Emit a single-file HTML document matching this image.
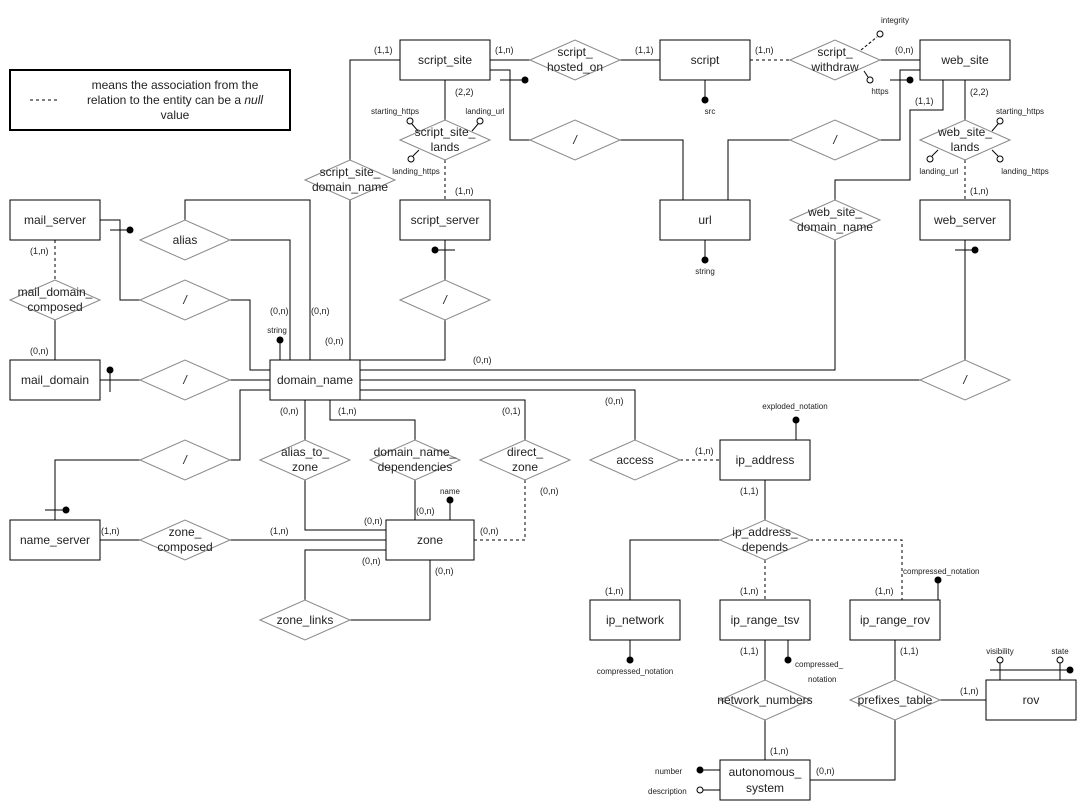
<!DOCTYPE html>
<html><head><meta charset="utf-8"><style>
html,body{margin:0;padding:0;background:#fff}
svg{display:block}
text{font-family:"Liberation Sans",Arial,sans-serif;fill:#222}
.e{font-size:12px;text-anchor:middle;dominant-baseline:middle}
.c{font-size:9px;fill:#444}
.a{font-size:8px}
.m{text-anchor:middle}
</style></head><body>
<svg width="1092" height="811" viewBox="0 0 1092 811" xmlns="http://www.w3.org/2000/svg">
<g fill="none" stroke="#000" stroke-width="1">
<!-- legend -->
<rect x="10" y="70" width="280" height="60" stroke-width="2"/>
<line x1="30" y1="100" x2="60" y2="100" stroke-dasharray="3,3"/>

<!-- connectors -->
<polyline points="400,60 350,60 350,160"/>
<polyline points="350,200 350,360"/>
<line x1="490" y1="60" x2="530" y2="60"/>
<line x1="620" y1="60" x2="660" y2="60"/>
<polyline points="490,70 510,70 510,140 530,140"/>
<polyline points="620,140 683,140 683,200"/>
<line x1="500" y1="80" x2="525" y2="80"/>
<line x1="445" y1="80" x2="445" y2="120"/>
<line x1="445" y1="160" x2="445" y2="200" stroke-dasharray="3,3"/>
<line x1="750" y1="60" x2="790" y2="60" stroke-dasharray="3,3"/>
<line x1="880" y1="60" x2="920" y2="60"/>
<line x1="861" y1="50" x2="877" y2="37" stroke-dasharray="3,2"/>
<line x1="864" y1="71" x2="868" y2="77"/>
<line x1="705" y1="80" x2="705" y2="100"/>
<polyline points="920,70 900,70 900,140 880,140"/>
<polyline points="790,140 728,140 728,200"/>
<line x1="890" y1="80" x2="910" y2="80"/>
<polyline points="943,80 943,110 910,110 910,180 835,180 835,200"/>
<polyline points="835,240 835,370 360,370"/>
<line x1="965" y1="80" x2="965" y2="120"/>
<line x1="965" y1="160" x2="965" y2="200" stroke-dasharray="3,3"/>
<line x1="705" y1="240" x2="705" y2="260"/>
<line x1="965" y1="240" x2="965" y2="360"/>
<line x1="955" y1="250" x2="975" y2="250"/>
<line x1="920" y1="380" x2="360" y2="380"/>
<line x1="445" y1="240" x2="445" y2="280"/>
<line x1="435" y1="250" x2="455" y2="250"/>
<polyline points="445,320 445,360 360,360"/>
<polyline points="185,220 185,200 310,200 310,360"/>
<polyline points="230,240 290,240 290,360"/>
<line x1="280" y1="340" x2="280" y2="360"/>
<polyline points="100,220 120,220 120,300 140,300"/>
<polyline points="230,300 250,300 250,370 270,370"/>
<line x1="110" y1="230" x2="130" y2="230"/>
<line x1="55" y1="240" x2="55" y2="280" stroke-dasharray="3,3"/>
<line x1="55" y1="320" x2="55" y2="360"/>
<line x1="100" y1="380" x2="140" y2="380"/>
<line x1="230" y1="380" x2="270" y2="380"/>
<line x1="110" y1="370" x2="110" y2="392"/>
<polyline points="270,390 240,390 240,460 230,460"/>
<polyline points="140,460 55,460 55,520"/>
<line x1="45" y1="510" x2="65" y2="510"/>
<line x1="305" y1="400" x2="305" y2="440"/>
<polyline points="305,480 305,530 386,530"/>
<polyline points="330,400 330,420 415,420 415,440"/>
<line x1="415" y1="480" x2="415" y2="520"/>
<line x1="450" y1="500" x2="450" y2="520"/>
<polyline points="360,400 525,400 525,440"/>
<polyline points="525,480 525,540 474,540" stroke-dasharray="3,3"/>
<polyline points="360,390 635,390 635,440"/>
<line x1="680" y1="460" x2="720" y2="460" stroke-dasharray="3,3"/>
<line x1="796" y1="420" x2="796" y2="440"/>
<line x1="765" y1="480" x2="765" y2="520"/>
<polyline points="720,540 630,540 630,600"/>
<line x1="765" y1="560" x2="765" y2="600" stroke-dasharray="3,3"/>
<polyline points="810,540 902,540 902,600" stroke-dasharray="3,3"/>
<line x1="938" y1="580" x2="938" y2="600"/>
<line x1="630" y1="640" x2="630" y2="660"/>
<line x1="765" y1="640" x2="765" y2="680"/>
<line x1="788" y1="640" x2="788" y2="660"/>
<line x1="765" y1="720" x2="765" y2="760"/>
<line x1="895" y1="640" x2="895" y2="680"/>
<line x1="940" y1="700" x2="986" y2="700"/>
<polyline points="895,720 895,780 810,780"/>
<line x1="990" y1="670" x2="1070" y2="670"/>
<line x1="1000" y1="663" x2="1000" y2="680"/>
<line x1="1060" y1="663" x2="1060" y2="680"/>
<line x1="700" y1="770" x2="720" y2="770"/>
<line x1="703" y1="790" x2="720" y2="790"/>
<line x1="100" y1="540" x2="140" y2="540"/>
<line x1="230" y1="540" x2="386" y2="540"/>
<polyline points="305,600 305,550 386,550"/>
<polyline points="350,620 430,620 430,560"/>

<!-- entities -->
<rect x="400" y="40" width="90" height="40" fill="#fff"/>
<rect x="660" y="40" width="90" height="40" fill="#fff"/>
<rect x="920" y="40" width="90" height="40" fill="#fff"/>
<rect x="10" y="200" width="90" height="40" fill="#fff"/>
<rect x="400" y="200" width="90" height="40" fill="#fff"/>
<rect x="660" y="200" width="90" height="40" fill="#fff"/>
<rect x="920" y="200" width="90" height="40" fill="#fff"/>
<rect x="10" y="360" width="90" height="40" fill="#fff"/>
<rect x="270" y="360" width="90" height="40" fill="#fff"/>
<rect x="720" y="440" width="90" height="40" fill="#fff"/>
<rect x="10" y="520" width="90" height="40" fill="#fff"/>
<rect x="386" y="520" width="88" height="40" fill="#fff"/>
<rect x="590" y="600" width="90" height="40" fill="#fff"/>
<rect x="720" y="600" width="90" height="40" fill="#fff"/>
<rect x="850" y="600" width="90" height="40" fill="#fff"/>
<rect x="986" y="680" width="90" height="40" fill="#fff"/>
<rect x="720" y="760" width="90" height="40" fill="#fff"/>
</g>

<!-- diamonds -->
<g fill="#fff" stroke="#888" stroke-width="1">
<polygon points="530,60 575,40 620,60 575,80"/>
<polygon points="790,60 835,40 880,60 835,80"/>
<polygon points="400,140 445,120 490,140 445,160"/>
<polygon points="530,140 575,120 620,140 575,160"/>
<polygon points="790,140 835,120 880,140 835,160"/>
<polygon points="920,140 965,120 1010,140 965,160"/>
<polygon points="305,180 350,160 395,180 350,200"/>
<polygon points="790,220 835,200 880,220 835,240"/>
<polygon points="140,240 185,220 230,240 185,260"/>
<polygon points="10,300 55,280 100,300 55,320"/>
<polygon points="140,300 185,280 230,300 185,320"/>
<polygon points="400,300 445,280 490,300 445,320"/>
<polygon points="140,380 185,360 230,380 185,400"/>
<polygon points="920,380 965,360 1010,380 965,400"/>
<polygon points="140,460 185,440 230,460 185,480"/>
<polygon points="260,460 305,440 350,460 305,480"/>
<polygon points="370,460 415,440 460,460 415,480"/>
<polygon points="480,460 525,440 570,460 525,480"/>
<polygon points="590,460 635,440 680,460 635,480"/>
<polygon points="720,540 765,520 810,540 765,560"/>
<polygon points="140,540 185,520 230,540 185,560"/>
<polygon points="260,620 305,600 350,620 305,640"/>
<polygon points="720,700 765,680 810,700 765,720"/>
<polygon points="850,700 895,680 940,700 895,720"/>
</g>

<!-- attribute dots/circles -->
<g fill="#000">
<circle cx="525" cy="80" r="3.5"/><circle cx="705" cy="100" r="3.5"/><circle cx="910" cy="80" r="3.5"/>
<circle cx="705" cy="260" r="3.5"/><circle cx="975" cy="250" r="3.5"/><circle cx="435" cy="250" r="3.5"/>
<circle cx="280" cy="340" r="3.5"/><circle cx="130" cy="230" r="3.5"/><circle cx="110" cy="370" r="3.5"/>
<circle cx="66" cy="510" r="3.5"/><circle cx="450" cy="500" r="3.5"/><circle cx="796" cy="420" r="3.5"/>
<circle cx="938" cy="580" r="3.5"/><circle cx="630" cy="660" r="3.5"/><circle cx="788" cy="660" r="3.5"/>
<circle cx="1070" cy="670" r="3.5"/><circle cx="700" cy="770" r="3.5"/>
</g>
<g fill="#fff" stroke="#000">
<circle cx="880" cy="34" r="3"/><circle cx="870" cy="80" r="3"/>
<circle cx="410" cy="121" r="3"/><circle cx="480" cy="121" r="3"/><circle cx="411" cy="159" r="3"/>
<circle cx="1000" cy="121" r="3"/><circle cx="930" cy="159" r="3"/><circle cx="1000" cy="159" r="3"/>
<circle cx="1000" cy="660" r="3"/><circle cx="1060" cy="660" r="3"/><circle cx="700" cy="790" r="3"/>
</g>
<g stroke="#000"><line x1="412" y1="124" x2="418" y2="131"/><line x1="478" y1="124" x2="472" y2="131"/><line x1="413" y1="156" x2="419" y2="150"/>
<line x1="998" y1="124" x2="992" y2="131"/><line x1="932" y1="156" x2="938" y2="150"/><line x1="998" y1="156" x2="992" y2="150"/></g>

<!-- legend text -->
<text x="175" y="89" font-size="12" class="m">means the association from the</text>
<text x="175" y="104" font-size="12" class="m">relation to the entity can be a <tspan font-style="italic">null</tspan></text>
<text x="175" y="119" font-size="12" class="m">value</text>

<!-- entity labels -->
<text class="e" x="445" y="61">script_site</text>
<text class="e" x="705" y="61">script</text>
<text class="e" x="965" y="61">web_site</text>
<text class="e" x="55" y="221">mail_server</text>
<text class="e" x="445" y="221">script_server</text>
<text class="e" x="705" y="221">url</text>
<text class="e" x="965" y="221">web_server</text>
<text class="e" x="55" y="381">mail_domain</text>
<text class="e" x="315" y="381">domain_name</text>
<text class="e" x="765" y="461">ip_address</text>
<text class="e" x="55" y="541">name_server</text>
<text class="e" x="430" y="541">zone</text>
<text class="e" x="635" y="621">ip_network</text>
<text class="e" x="765" y="621">ip_range_tsv</text>
<text class="e" x="895" y="621">ip_range_rov</text>
<text class="e" x="1031" y="701">rov</text>
<text class="e" x="765" y="773">autonomous_</text>
<text class="e" x="765" y="789">system</text>

<!-- diamond labels -->
<text class="e" x="575" y="53">script_</text><text class="e" x="575" y="68">hosted_on</text>
<text class="e" x="835" y="53">script_</text><text class="e" x="835" y="68">withdraw</text>
<text class="e" x="445" y="133">script_site_</text><text class="e" x="445" y="148">lands</text>
<text class="e" x="575" y="141" font-style="italic">/</text>
<text class="e" x="835" y="141" font-style="italic">/</text>
<text class="e" x="965" y="133">web_site_</text><text class="e" x="965" y="148">lands</text>
<text class="e" x="350" y="173">script_site_</text><text class="e" x="350" y="188">domain_name</text>
<text class="e" x="835" y="213">web_site_</text><text class="e" x="835" y="228">domain_name</text>
<text class="e" x="185" y="241">alias</text>
<text class="e" x="55" y="293">mail_domain_</text><text class="e" x="55" y="308">composed</text>
<text class="e" x="185" y="301" font-style="italic">/</text>
<text class="e" x="445" y="301" font-style="italic">/</text>
<text class="e" x="185" y="381" font-style="italic">/</text>
<text class="e" x="965" y="381" font-style="italic">/</text>
<text class="e" x="185" y="461" font-style="italic">/</text>
<text class="e" x="305" y="453">alias_to_</text><text class="e" x="305" y="468">zone</text>
<text class="e" x="415" y="453">domain_name_</text><text class="e" x="415" y="468">dependencies</text>
<text class="e" x="525" y="453">direct_</text><text class="e" x="525" y="468">zone</text>
<text class="e" x="635" y="461">access</text>
<text class="e" x="765" y="533">ip_address_</text><text class="e" x="765" y="548">depends</text>
<text class="e" x="185" y="533">zone_</text><text class="e" x="185" y="548">composed</text>
<text class="e" x="305" y="621">zone_links</text>
<text class="e" x="765" y="701">network_numbers</text>
<text class="e" x="895" y="701">prefixes_table</text>

<!-- cardinalities -->
<g class="c">
<text x="374" y="53">(1,1)</text><text x="495" y="53">(1,n)</text><text x="635" y="53">(1,1)</text>
<text x="755" y="53">(1,n)</text><text x="895" y="53">(0,n)</text>
<text x="455" y="95">(2,2)</text><text x="455" y="194">(1,n)</text>
<text x="915" y="104">(1,1)</text><text x="970" y="95">(2,2)</text><text x="970" y="194">(1,n)</text>
<text x="30" y="254">(1,n)</text><text x="30" y="354">(0,n)</text>
<text x="270" y="314">(0,n)</text><text x="311" y="314">(0,n)</text><text x="325" y="344">(0,n)</text>
<text x="473" y="363">(0,n)</text>
<text x="280" y="414">(0,n)</text><text x="338" y="414">(1,n)</text><text x="502" y="414">(0,1)</text>
<text x="605" y="404">(0,n)</text><text x="695" y="454">(1,n)</text>
<text x="540" y="494">(0,n)</text><text x="416" y="514">(0,n)</text><text x="364" y="524">(0,n)</text>
<text x="480" y="534">(0,n)</text><text x="101" y="534">(1,n)</text><text x="270" y="534">(1,n)</text>
<text x="362" y="564">(0,n)</text><text x="435" y="574">(0,n)</text>
<text x="740" y="494">(1,1)</text>
<text x="605" y="594">(1,n)</text><text x="740" y="594">(1,n)</text><text x="875" y="594">(1,n)</text>
<text x="740" y="654">(1,1)</text><text x="900" y="654">(1,1)</text>
<text x="960" y="694">(1,n)</text><text x="770" y="754">(1,n)</text><text x="816" y="774">(0,n)</text>
</g>

<!-- attribute labels -->
<g class="a">
<text x="895" y="23" class="m">integrity</text>
<text x="880" y="94" class="m">https</text>
<text x="710" y="114" class="m">src</text>
<text x="395" y="114" class="m">starting_https</text>
<text x="485" y="114" class="m">landing_url</text>
<text x="416" y="174" class="m">landing_https</text>
<text x="1020" y="114" class="m">starting_https</text>
<text x="939" y="174" class="m">landing_url</text>
<text x="1025" y="174" class="m">landing_https</text>
<text x="705" y="274" class="m">string</text>
<text x="277" y="333" class="m">string</text>
<text x="450" y="494" class="m">name</text>
<text x="795" y="409" class="m">exploded_notation</text>
<text x="903" y="574">compressed_notation</text>
<text x="635" y="674" class="m">compressed_notation</text>
<text x="795" y="667">compressed_</text>
<text x="808" y="682">notation</text>
<text x="1000" y="654" class="m">visibility</text>
<text x="1060" y="654" class="m">state</text>
<text x="655" y="774">number</text>
<text x="648" y="794">description</text>
</g>
</svg>
</body></html>
